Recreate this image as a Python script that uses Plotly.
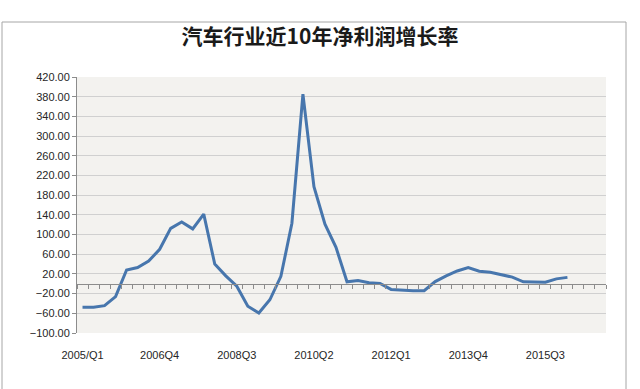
import plotly.graph_objects as go

quarters = [
    "2005/Q1", "2005Q2", "2005Q3", "2005Q4",
    "2006Q1", "2006Q2", "2006Q3", "2006Q4",
    "2007Q1", "2007Q2", "2007Q3", "2007Q4",
    "2008Q1", "2008Q2", "2008Q3", "2008Q4",
    "2009Q1", "2009Q2", "2009Q3", "2009Q4",
    "2010Q1", "2010Q2", "2010Q3", "2010Q4",
    "2011Q1", "2011Q2", "2011Q3", "2011Q4",
    "2012Q1", "2012Q2", "2012Q3", "2012Q4",
    "2013Q1", "2013Q2", "2013Q3", "2013Q4",
    "2014Q1", "2014Q2", "2014Q3", "2014Q4",
    "2015Q1", "2015Q2", "2015Q3", "2015Q4",
    "2016Q1", "2016Q2", "2016Q3", "2016Q4",
]

growth = [
    -47.5, -47.5, -44.5, -26.0, 28.0, 33.0, 46.0, 70.0,
    112.5, 125.5, 111.5, 141.5, 40.0, 16.0, -5.0, -45.5,
    -59.5, -32.5, 15.0, 123.0, 385.0, 197.0, 121.0, 74.0,
    4.0, 6.5, 2.0, 0.5, -11.5, -13.5, -14.0, -14.0,
    4.5, 16.0, 26.0, 33.0, 25.5, 23.5, 18.0, 13.5,
    4.0, 3.0, 3.0, 10.0, 13.0,
]

label_ticks = ["2005/Q1", "2006Q4", "2008Q3", "2010Q2", "2012Q1", "2013Q4", "2015Q3"]
y_ticks = [-100, -60, -20, 20, 60, 100, 140, 180, 220, 260, 300, 340, 380, 420]

title = "汽车行业近10年净利润增长率"

W, H = 640, 389
ML, MR, MT, MB = 77, 34, 77, 56
pw, ph = W - ML - MR, H - MT - MB

ymin, ymax = -100, 420
xr = [-0.5, len(quarters) - 0.5]

fig = go.Figure()
fig.add_trace(go.Scatter(
    x=quarters[:len(growth)], y=growth, mode="lines",
    line=dict(color="#4776ad", width=3), hoverinfo="x+y",
    showlegend=False,
))
# helper trace for the zero-crossing category axis
fig.add_trace(go.Scatter(
    x=quarters, y=[None] * len(quarters), xaxis="x2", mode="lines",
    showlegend=False, hoverinfo="skip",
))

tickfont = dict(family="Liberation Sans, Arial, sans-serif", size=11, color="#262626")

fig.update_layout(
    width=W, height=H,
    margin=dict(l=ML, r=MR, t=MT, b=MB),
    paper_bgcolor="white",
    plot_bgcolor="#f3f2ef",
    title=dict(
        text=title, x=0.5, xref="container", xanchor="center",
        y=1 - 37 / H, yref="container", yanchor="middle",
        font=dict(family="Noto Sans CJK SC", size=21, color="#1a1a1a", weight="bold"),
    ),
    xaxis=dict(
        type="category", categoryorder="array", categoryarray=quarters,
        range=xr, tickmode="array", tickvals=label_ticks, ticktext=label_ticks,
        ticks="outside", ticklen=12, tickcolor="rgba(0,0,0,0)",
        showline=False, showgrid=False, zeroline=False,
        tickfont=tickfont, fixedrange=True,
    ),
    xaxis2=dict(
        type="category", categoryorder="array", categoryarray=quarters,
        range=xr, overlaying="x", anchor="free",
        position=(0 - ymin) / (ymax - ymin),
        showline=True, linecolor="#8c8c8c", linewidth=1,
        ticks="outside", ticklen=4, tickcolor="#8c8c8c", tickwidth=1,
        tickson="boundaries", tickmode="linear", tick0=0, dtick=1,
        showticklabels=False, showgrid=False, zeroline=False,
    ),
    yaxis=dict(
        range=[ymin, ymax], tickmode="array", tickvals=y_ticks,
        tickformat=".2f", ticks="outside", ticklen=4, tickcolor="#8c8c8c",
        showline=True, linecolor="#8c8c8c", linewidth=1,
        showgrid=True, gridcolor="#d0d0d0", gridwidth=1,
        zeroline=False, tickfont=tickfont, fixedrange=True,
    ),
)

# outer chart frame
fig.add_shape(
    type="rect", xref="paper", yref="paper",
    x0=(2 - ML) / pw, x1=(626 - ML) / pw,
    y0=(H - MT - 395) / ph, y1=(H - MT - 1) / ph,
    line=dict(color="#a6a6a6", width=1), fillcolor="rgba(0,0,0,0)",
    layer="below",
)

fig.write_html("out.html")
